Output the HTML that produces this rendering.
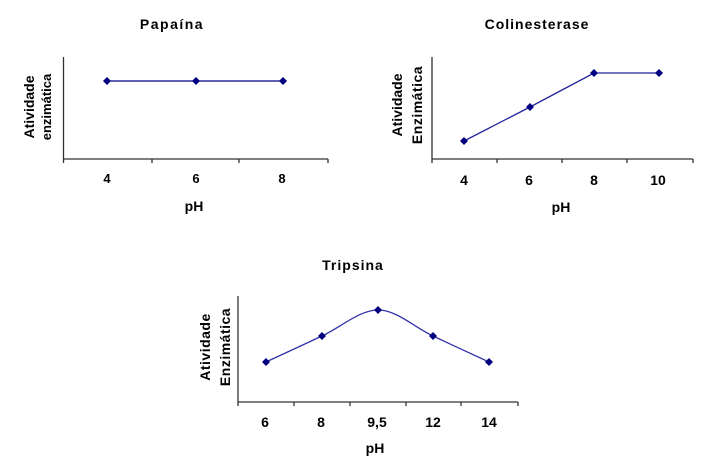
<!DOCTYPE html>
<html><head><meta charset="utf-8"><style>
html,body{margin:0;padding:0;background:#fff;}
svg{display:block;}
text{font-family:"Liberation Sans",Arial,sans-serif;font-weight:bold;fill:#000;}
</style></head><body>
<svg width="717" height="460" viewBox="0 0 717 460" xmlns="http://www.w3.org/2000/svg">
<defs>
<path id="d" d="M0,-4 L4,0 L0,4 L-4,0 Z" fill="#000080"/>
</defs>
<!-- Chart 1 Papaína -->
<text x="172" y="29" font-size="14" text-anchor="middle" letter-spacing="1.5">Papaína</text>
<g stroke="#333" stroke-width="1.3" fill="none">
<line x1="63.5" y1="57" x2="63.5" y2="163"/>
<line x1="63" y1="159" x2="328" y2="159"/>
<line x1="152" y1="159" x2="152" y2="163"/>
<line x1="239" y1="159" x2="239" y2="163"/>
<line x1="328" y1="159" x2="328" y2="163"/>
</g>
<polyline points="107,81 196,81 283,81" fill="none" stroke="#000080" stroke-width="1.3"/>
<use href="#d" x="107" y="81"/><use href="#d" x="196" y="81"/><use href="#d" x="283" y="81"/>
<text x="107" y="183" font-size="13" text-anchor="middle">4</text>
<text x="196" y="183" font-size="13" text-anchor="middle">6</text>
<text x="282" y="183" font-size="13" text-anchor="middle">8</text>
<text x="194" y="211" font-size="14" text-anchor="middle">pH</text>
<text transform="translate(34,107) rotate(-90)" font-size="14" text-anchor="middle">Atividade</text>
<text transform="translate(51,107) rotate(-90)" font-size="13" text-anchor="middle">enzimática</text>

<!-- Chart 2 Colinesterase -->
<text x="537" y="29" font-size="14" text-anchor="middle" letter-spacing="1">Colinesterase</text>
<g stroke="#333" stroke-width="1.3" fill="none">
<line x1="432" y1="57" x2="432" y2="163"/>
<line x1="432" y1="159" x2="693" y2="159"/>
<line x1="497" y1="159" x2="497" y2="163"/>
<line x1="562" y1="159" x2="562" y2="163"/>
<line x1="627" y1="159" x2="627" y2="163"/>
<line x1="693" y1="159" x2="693" y2="163"/>
</g>
<polyline points="464,141 530,107 594,73 659,73" fill="none" stroke="#22229a" stroke-width="1.3"/>
<use href="#d" x="464" y="141"/><use href="#d" x="530" y="107"/><use href="#d" x="594" y="73"/><use href="#d" x="659" y="73"/>
<text x="464" y="185" font-size="14" text-anchor="middle">4</text>
<text x="529" y="185" font-size="14" text-anchor="middle">6</text>
<text x="594" y="185" font-size="14" text-anchor="middle">8</text>
<text x="658" y="185" font-size="14" text-anchor="middle">10</text>
<text x="561" y="212" font-size="14" text-anchor="middle">pH</text>
<text transform="translate(402,105) rotate(-90)" font-size="14" text-anchor="middle">Atividade</text>
<text transform="translate(422,105) rotate(-90)" font-size="14" text-anchor="middle" letter-spacing="0.5">Enzimática</text>

<!-- Chart 3 Tripsina -->
<text x="353" y="270" font-size="14" text-anchor="middle" letter-spacing="1">Tripsina</text>
<g stroke="#333" stroke-width="1.3" fill="none">
<line x1="238" y1="296" x2="238" y2="406"/>
<line x1="238" y1="402" x2="518" y2="402"/>
<line x1="294" y1="402" x2="294" y2="406"/>
<line x1="350" y1="402" x2="350" y2="406"/>
<line x1="406" y1="402" x2="406" y2="406"/>
<line x1="461" y1="402" x2="461" y2="406"/>
<line x1="518" y1="402" x2="518" y2="406"/>
</g>
<path d="M266,362 C275.3,357.7 303.3,344.7 322,336 C340.7,327.3 359.5,310 378,310 C396.5,310 414.5,327.3 433,336 C451.5,344.7 479.7,357.7 489,362" fill="none" stroke="#3333a8" stroke-width="1.3"/>
<use href="#d" x="266" y="362"/><use href="#d" x="322" y="336"/><use href="#d" x="378" y="310"/><use href="#d" x="433" y="336"/><use href="#d" x="489" y="362"/>
<text x="265" y="427" font-size="14" text-anchor="middle">6</text>
<text x="321" y="427" font-size="14" text-anchor="middle">8</text>
<text x="377" y="427" font-size="14" text-anchor="middle">9,5</text>
<text x="433" y="427" font-size="14" text-anchor="middle">12</text>
<text x="489" y="427" font-size="14" text-anchor="middle">14</text>
<text x="375" y="453" font-size="14" text-anchor="middle">pH</text>
<text transform="translate(210,347) rotate(-90)" font-size="14" text-anchor="middle" letter-spacing="0.5">Atividade</text>
<text transform="translate(230,347) rotate(-90)" font-size="14" text-anchor="middle" letter-spacing="0.5">Enzimática</text>
</svg>
</body></html>
